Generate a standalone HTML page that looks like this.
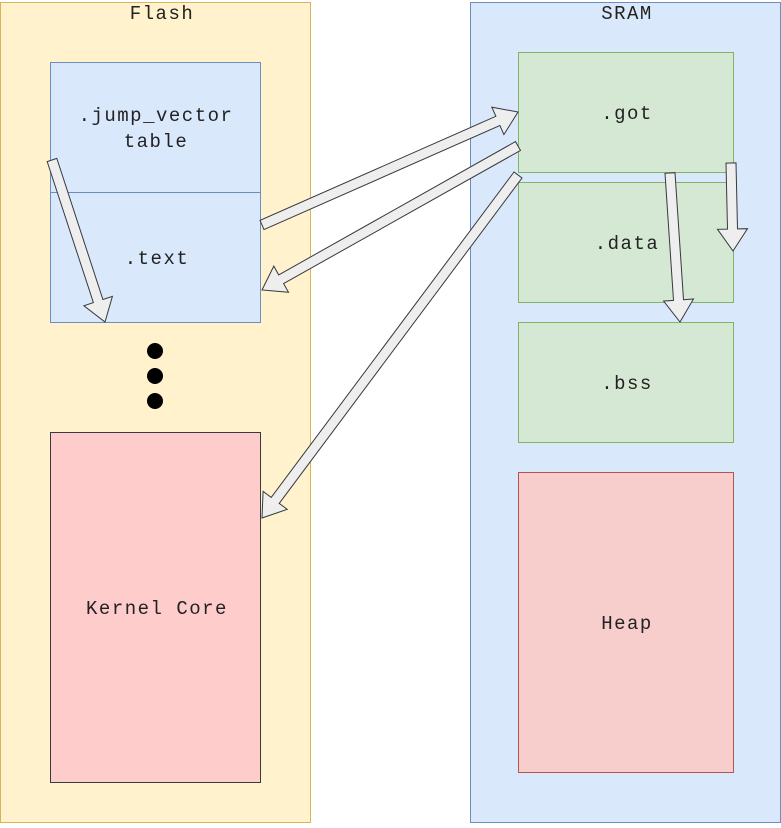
<!DOCTYPE html>
<html><head><meta charset="utf-8"><style>
body{margin:0;background:#fff}
svg text{font-family:"Liberation Mono",monospace;font-size:19px;letter-spacing:1.5px;fill:#222}
</style></head><body>
<svg id="s" width="781" height="823" viewBox="0 0 781 823" xmlns="http://www.w3.org/2000/svg">
<g>
<rect x="0.5" y="2.5" width="310" height="820" fill="#fff2cc" stroke="#d6b656"/>
<text x="162" y="19" text-anchor="middle">Flash</text>
</g>
<g>
<rect x="470.5" y="2.5" width="310" height="820" fill="#dae8fc" stroke="#6c8ebf"/>
<text x="627" y="19" text-anchor="middle">SRAM</text>
</g>
<g>
<rect x="50.5" y="62.5" width="210" height="130" fill="#dae8fc" stroke="#6c8ebf"/>
<text x="156" y="121" text-anchor="middle">.jump_vector</text>
<text x="156" y="147" text-anchor="middle">table</text>
</g>
<g>
<rect x="50.5" y="192.5" width="210" height="130" fill="#dae8fc" stroke="#6c8ebf"/>
<text x="157" y="264" text-anchor="middle">.text</text>
</g>
<g>
<circle cx="155" cy="351" r="8" fill="#000"/>
<circle cx="155" cy="376" r="8" fill="#000"/>
<circle cx="155" cy="401" r="8" fill="#000"/>
</g>
<g>
<rect x="50.5" y="432.5" width="210" height="350" fill="#ffcccc" stroke="#36393d"/>
<text x="157" y="614" text-anchor="middle">Kernel Core</text>
</g>
<g>
<rect x="518.5" y="52.5" width="215" height="120" fill="#d5e8d4" stroke="#82b366"/>
<text x="627" y="119" text-anchor="middle">.got</text>
</g>
<g>
<rect x="518.5" y="182.5" width="215" height="120" fill="#d5e8d4" stroke="#82b366"/>
<text x="627" y="249" text-anchor="middle">.data</text>
</g>
<g>
<rect x="518.5" y="322.5" width="215" height="120" fill="#d5e8d4" stroke="#82b366"/>
<text x="627" y="389" text-anchor="middle">.bss</text>
</g>
<g>
<rect x="518.5" y="472.5" width="215" height="300" fill="#f8cecc" stroke="#b85450"/>
<text x="627" y="629" text-anchor="middle">Heap</text>
</g>
<g id="arrows"></g>
</svg>
<script>
const arrowStarts=[[52,160],[262,225],[518,146],[518,175],[670,173],[731,163]];
const arrowEnds=[[105,322],[518,112],[262,290],[262,518],[680,322],[733,251]];
const arrowNames=['arrow-jump-to-text','arrow-text-to-got','arrow-got-to-text','arrow-got-to-kernel','arrow-got-to-bss','arrow-got-to-data'];
const g=document.getElementById('arrows');
function pts(a,b){
  const dx=b[0]-a[0],dy=b[1]-a[1],L=Math.hypot(dx,dy);
  const ux=dx/L,uy=dy/L,nx=-uy,ny=ux;
  const w=5,hw=15,hl=22;
  const bx=b[0]-ux*hl,by=b[1]-uy*hl;
  const p=[[a[0]+nx*w,a[1]+ny*w],[bx+nx*w,by+ny*w],[bx+nx*hw,by+ny*hw],b,[bx-nx*hw,by-ny*hw],[bx-nx*w,by-ny*w],[a[0]-nx*w,a[1]-ny*w]];
  return p.map(q=>q[0].toFixed(1)+','+q[1].toFixed(1)).join(' ');
}
for(let i=0;i<arrowStarts.length;i++){
  const el=document.createElementNS('http://www.w3.org/2000/svg','polygon');
  el.setAttribute('points',pts(arrowStarts[i],arrowEnds[i]));
  el.setAttribute('fill','#eeeeee');
  el.setAttribute('stroke','#36393d');
  el.setAttribute('stroke-width','1');
  
  
  g.appendChild(el);
}
</script>
</body></html>
